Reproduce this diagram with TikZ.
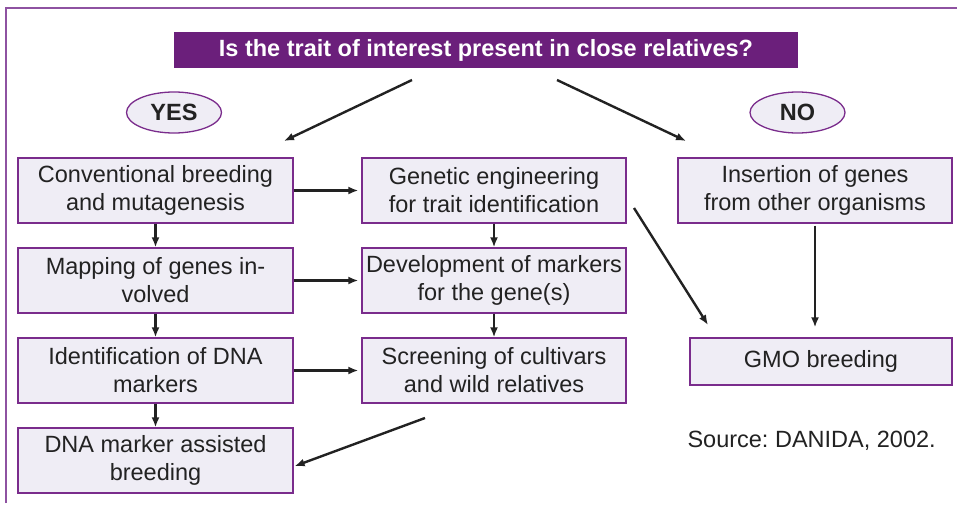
\documentclass[tikz,border=0pt]{standalone}
\usepackage{fontspec}
\setmainfont{Liberation Sans}
\frenchspacing
\usetikzlibrary{shapes.geometric,arrows.meta,positioning}
\definecolor{titlepurple}{HTML}{6B1F7B}
\definecolor{edgepurple}{HTML}{7A2C8C}
\definecolor{framepurple}{HTML}{8E52A1}
\definecolor{boxfill}{HTML}{EFEDF5}
\definecolor{inkgray}{HTML}{222222}

\begin{document}
\begin{tikzpicture}[x=1pt, y=-1pt, >={Latex[length=10pt,width=8pt]},
    every node/.style={font=\fontsize{23.5}{28}\selectfont, text=inkgray},
    box/.style={draw=edgepurple, line width=1.3pt, fill=boxfill, rectangle,
                align=center, inner sep=0pt, minimum height=65pt},
    answer/.style={draw=edgepurple, line width=1.3pt, fill=boxfill, ellipse,
                   inner sep=0pt, minimum width=95pt, minimum height=41pt,
                   font=\fontsize{23.5}{28}\selectfont\bfseries},
    arr/.style={->, line width=2.4pt, draw=inkgray}]
    \useasboundingbox (0,0) rectangle (957,506);

    % frame lines at top and left
    \draw[framepurple, line width=2.5pt] (6,503) -- (6,8) -- (957,8);

    % question and answers
    \node[fill=titlepurple, text=white, minimum width=624pt, minimum height=36pt,
          inner sep=0pt, font=\fontsize{23.5}{28}\selectfont\bfseries] (question) at (486,50)
          {Is the trait of interest present in close relatives?};
    \node[answer] (yes) at (174,112.5) {YES};
    \node[answer] (no) at (797.5,112.5) {NO};

    % left column
    \node[box, minimum width=275pt] (conv) at (155.5,190.5) {Conventional breeding\\and mutagenesis};
    \node[box, minimum width=275pt] (mapping) at (155.5,280.5) {Mapping of genes in-\\volved};
    \node[box, minimum width=275pt] (dnaid) at (155.5,370.5) {Identification of DNA\\markers};
    \node[box, minimum width=275pt] (mas) at (155.5,460.5) {DNA marker assisted\\breeding};

    % middle column
    \node[box, minimum width=264pt] (geneng) at (494,190.5) {Genetic engineering\\for trait identification};
    \node[box, minimum width=264pt] (markerdev) at (494,280.5) {Development of markers\\for the gene(s)};
    \node[box, minimum width=264pt] (screening) at (494,370.5) {Screening of cultivars\\and wild relatives};

    % right column
    \node[box, minimum width=274pt] (insertion) at (815,190.5) {Insertion of genes\\from other organisms};
    \node[box, minimum width=262pt, minimum height=47pt] (gmo) at (821,361.5) {GMO breeding};

    \node[anchor=west] (source) at (684,441) {Source: DANIDA, 2002.};

    % free ends of the slanted arrows
    \coordinate (yesfrom) at (412,80);
    \coordinate (yesto) at (284,141);
    \coordinate (nofrom) at (557,80);
    \coordinate (noto) at (686,141);
    \coordinate (gmofrom) at (634,208);
    \coordinate (gmoto) at (708,325);
    \coordinate (masfrom) at (425,418);

    \draw[arr] (yesfrom) -- (yesto);
    \draw[arr] (nofrom) -- (noto);

    \draw[arr] (conv) -- (mapping);
    \draw[arr] (mapping) -- (dnaid);
    \draw[arr] (dnaid) -- (mas);
    \draw[arr] (geneng) -- (markerdev);
    \draw[arr] (markerdev) -- (screening);

    \draw[arr, shorten >=3pt] (conv) -- (geneng);
    \draw[arr, shorten >=3pt] (mapping) -- (markerdev);
    \draw[arr, shorten >=3pt] (dnaid) -- (screening);

    \draw[arr, shorten <=2pt, shorten >=10pt] (insertion.south) -- (insertion.south |- gmo.north);
    \draw[arr] (gmofrom) -- (gmoto);
    \draw[arr, shorten >=1pt] (masfrom) -- ([yshift=-6pt]mas.east);
\end{tikzpicture}
\end{document}
